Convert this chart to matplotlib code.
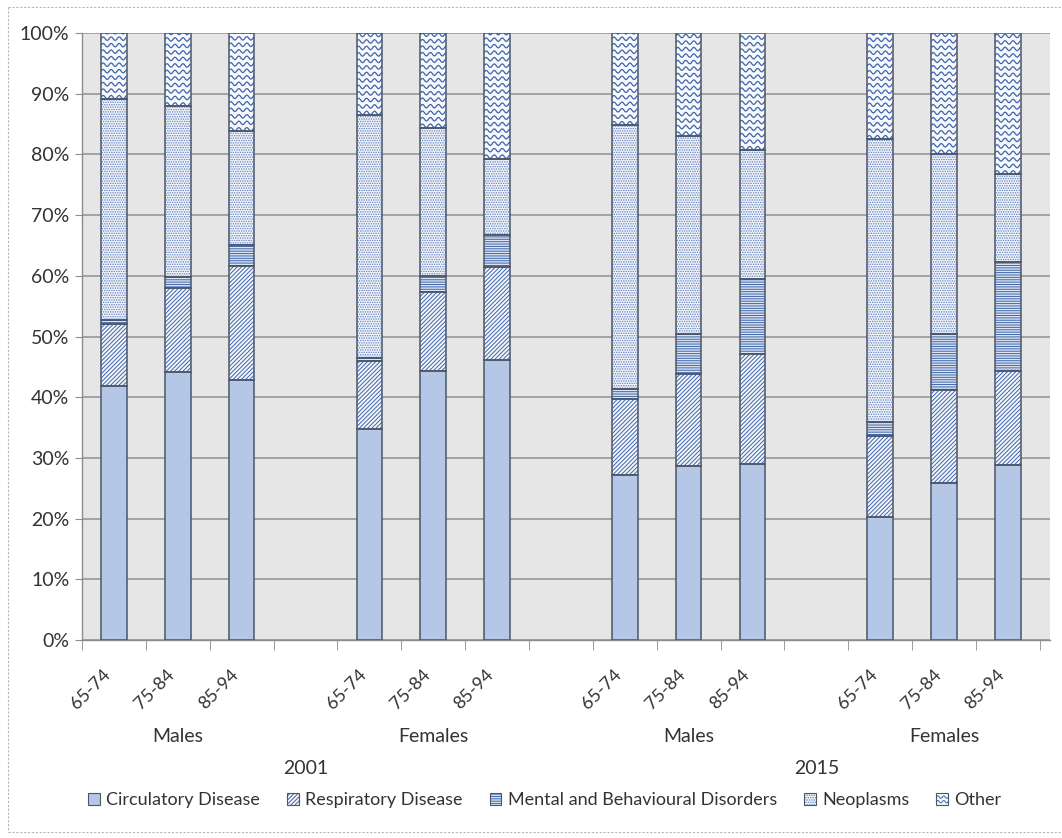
import numpy as np
import matplotlib.pyplot as plt
from matplotlib.patches import Rectangle
from matplotlib.lines import Line2D
from matplotlib.collections import LineCollection
from matplotlib.transforms import blended_transform_factory

plt.rcParams['font.family'] = ['Lato', 'DejaVu Sans']
plt.rcParams['hatch.linewidth'] = 0.7

# categories
ages = ['65-74', '75-84', '85-94']
sexes = ['Males', 'Females']
years = ['2001', '2015']
causes = ['Circulatory Disease', 'Respiratory Disease',
          'Mental and Behavioural Disorders', 'Neoplasms', 'Other']

# share of deaths (%), order: Males 2001, Females 2001, Males 2015, Females 2015 (x 3 ages)
circulatory = [41.8, 44.1, 42.9, 34.7, 44.3, 46.1, 27.2, 28.6, 29.0, 20.2, 25.9, 28.9]
respiratory = [10.3, 13.9, 18.7, 11.2, 13.0, 15.4, 12.5, 15.2, 18.1, 13.4, 15.3, 15.4]
mental      = [0.6, 1.8, 3.4, 0.6, 2.7, 5.3, 1.7, 6.6, 12.3, 2.3, 9.2, 18.0]
neoplasms   = [36.4, 28.1, 18.8, 40.0, 24.4, 12.5, 43.4, 32.7, 21.3, 46.6, 29.7, 14.4]
other       = [10.9, 12.1, 16.2, 13.5, 15.6, 20.7, 15.2, 16.9, 19.3, 17.5, 19.9, 23.3]

EDGE = '#4b566a'
HATCH = '#3f64a8'
TEXT = '#333333'
FS = 14
styles = [
    dict(fc='#b4c7e7', hatch=None, hc=HATCH),
    dict(fc='#f3f6fb', hatch='////////', hc=HATCH),
    dict(fc='#dbe5f4', hatch='-------', hc=HATCH),
    dict(fc='#f2f5fb', hatch='.......', hc='#5f7fbb'),
    dict(fc='#f7f9fd', hatch=None, hc=HATCH),   # wavy lines drawn separately
]

fig = plt.figure(figsize=(10.62, 8.38), dpi=100)
ax = fig.add_axes([82 / 1062, 1 - 640 / 838, (1050 - 82) / 1062, (640 - 33) / 838])
ax.set_facecolor('#e6e6e6')

# one empty slot between each sex/year block
slots = np.array([g * 4 + a for g in range(4) for a in range(3)])
ax.set_xlim(-0.5, 14.66)
ax.set_ylim(0, 100)

width = 0.4
px_x = ax.bbox.width / 15.16
px_y = ax.bbox.height / 100.0


def add_waves(rect):
    x0, y0 = rect.get_x(), rect.get_y()
    w, h = rect.get_width(), rect.get_height()
    period, amp, gap = 8.0, 1.7, 6.5
    xs = np.linspace(0, w * px_x, 80)
    segs = []
    for k in range(int(h * px_y / gap) + 2):
        ys = k * gap + 2.0 + amp * np.sin(2 * np.pi * xs / period)
        segs.append(np.column_stack([x0 + xs / px_x, y0 + ys / px_y]))
    lc = LineCollection(segs, colors=HATCH, linewidths=0.9, zorder=2.5)
    ax.add_collection(lc)
    lc.set_clip_path(rect)


bottom = np.zeros(len(slots))
for i, vals in enumerate([circulatory, respiratory, mental, neoplasms, other]):
    vals = np.array(vals)
    st = styles[i]
    bars = ax.bar(slots, vals, width, bottom=bottom, color=st['fc'],
                  edgecolor=st['hc'], hatch=st['hatch'], linewidth=0, zorder=2)
    ax.bar(slots, vals, width, bottom=bottom, fill=False,
           edgecolor=EDGE, linewidth=1.1, zorder=3)
    if i == 4:
        for b in bars:
            add_waves(b)
    bottom += vals

# axes styling
ax.set_yticks(np.arange(0, 101, 10))
ax.set_yticklabels([f'{v}%' for v in range(0, 101, 10)])
ax.yaxis.grid(True, color='#979797', linewidth=1.2, zorder=1)
ax.set_axisbelow(True)
for s in ['top', 'right']:
    ax.spines[s].set_visible(False)
for s in ['left', 'bottom']:
    ax.spines[s].set_color('#8c8c8c')
    ax.spines[s].set_linewidth(1.0)
ax.tick_params(axis='y', length=5, color='#8c8c8c', labelsize=FS,
               labelcolor=TEXT, pad=4)

ax.set_xticks(slots)
ax.set_xticklabels(ages * 4, rotation=45, ha='right')
ax.set_xticks(np.arange(-0.5, 14.6, 1), minor=True)
ax.tick_params(axis='x', which='major', length=0, pad=19, labelsize=13,
               labelcolor=TEXT)
ax.tick_params(axis='x', which='minor', length=7, color='#8c8c8c')

# group and year labels under the axis
tr = blended_transform_factory(ax.transData, fig.transFigure)
for g in range(4):
    ax.text(g * 4 + 1, 1 - 736 / 838, sexes[g % 2], transform=tr,
            ha='center', va='center', fontsize=FS, color=TEXT)
for y, label in enumerate(years):
    ax.text(y * 8 + 3, 1 - 768 / 838, label, transform=tr,
            ha='center', va='center', fontsize=FS, color=TEXT)


class SwatchHandler:
    def __init__(self, fc, hatch, hc, waves=False):
        self.fc, self.hatch, self.hc, self.waves = fc, hatch, hc, waves

    def legend_artist(self, legend, orig_handle, fontsize, handlebox):
        x0, y0 = handlebox.xdescent, handlebox.ydescent
        w, h = handlebox.width, handlebox.height
        t = handlebox.get_transform()
        fill = Rectangle((x0, y0), w, h, facecolor=self.fc, edgecolor=self.hc,
                         hatch=self.hatch, linewidth=0, transform=t)
        handlebox.add_artist(fill)
        if self.waves:
            u = np.linspace(0, 1, 30)
            for f in (0.3, 0.68):
                handlebox.add_artist(Line2D(x0 + u * w, y0 + h * f + 0.1 * h * np.sin(2 * np.pi * u * 2),
                                            color=HATCH, linewidth=0.7, transform=t))
        box = Rectangle((x0, y0), w, h, fill=False, edgecolor=EDGE,
                        linewidth=0.8, transform=t)
        handlebox.add_artist(box)
        return box


handles = [Rectangle((0, 0), 1, 1) for _ in causes]
hmap = {h: SwatchHandler(st['fc'], st['hatch'], st['hc'], i == 4)
        for i, (h, st) in enumerate(zip(handles, styles))}
fig.legend(handles, causes, handler_map=hmap, loc='center',
           bbox_to_anchor=(0.513, 1 - 800 / 838), ncol=5, frameon=False,
           fontsize=13, handlelength=0.65, handleheight=0.65,
           handletextpad=0.35, columnspacing=1.5, labelcolor=TEXT)

# dashed chart-area border
for xs, ys in [((8, 1062), (7, 7)), ((8, 8), (7, 832)), ((8, 1062), (832, 832))]:
    fig.add_artist(Line2D([x / 1062 for x in xs], [1 - y / 838 for y in ys],
                          color='#b5b5b5', linewidth=0.8, linestyle=(0, (2, 1.5))))

fig.savefig('out.png', dpi=100)
